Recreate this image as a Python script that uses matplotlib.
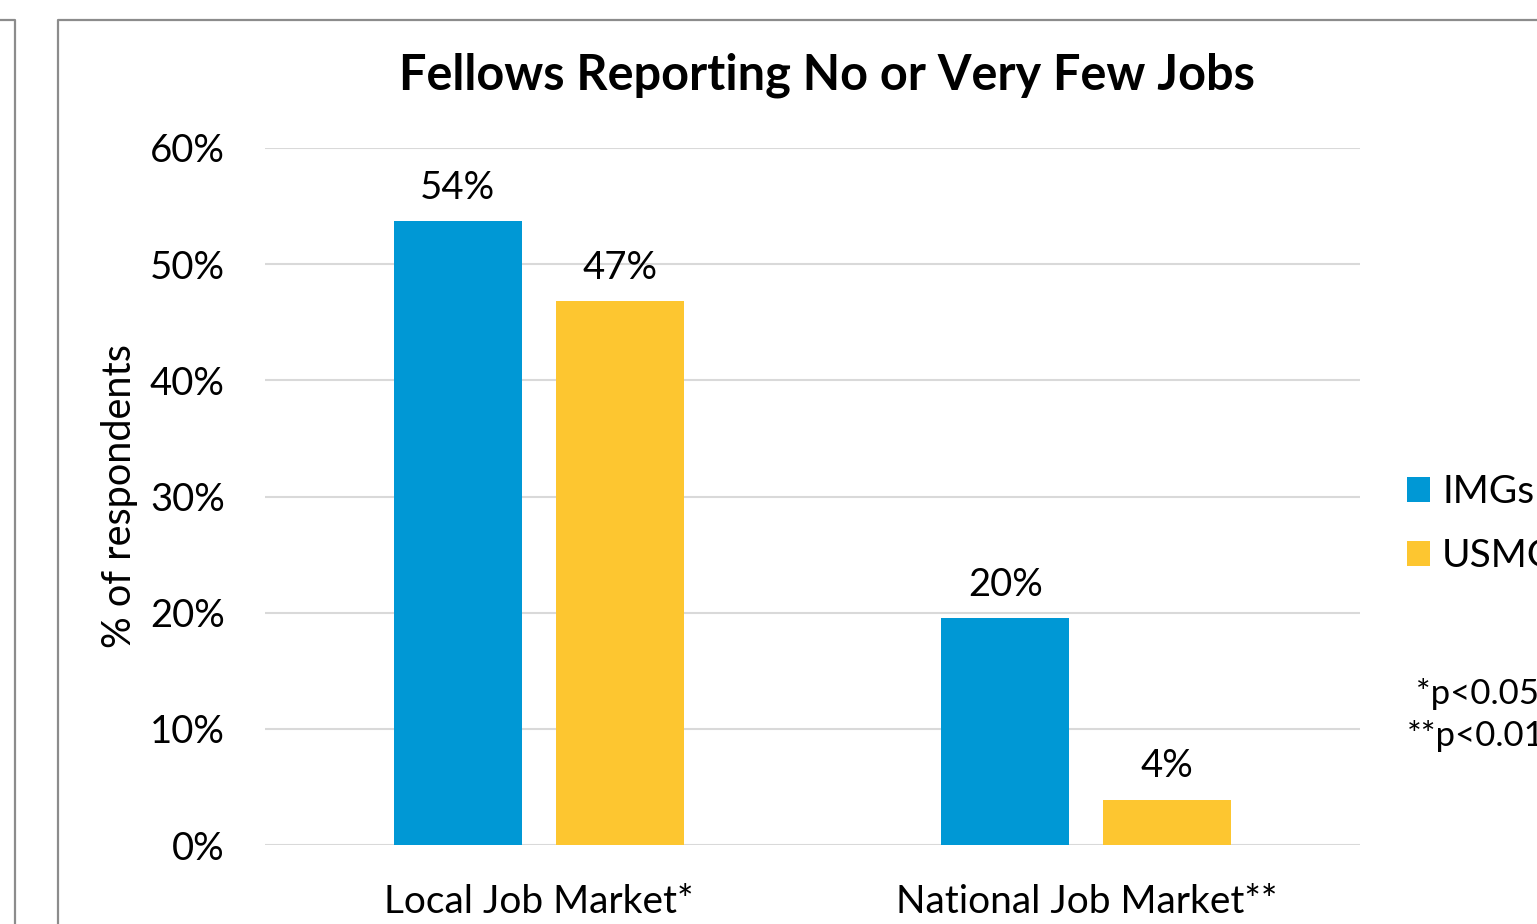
import matplotlib
matplotlib.use("Agg")
import matplotlib.pyplot as plt
from matplotlib.lines import Line2D
import numpy as np

categories = ["Local Job Market*", "National Job Market**"]
series_names = ["IMGs", "USMGs"]
imgs = [53.7, 19.5]
usmgs = [46.8, 3.9]
yticks = [0, 10, 20, 30, 40, 50, 60]
title = "Fellows Reporting No or Very Few Jobs"
ylabel = "% of respondents"
note = " *p<0.05\n**p<0.01"

BLUE = "#0098D5"
YELLOW = "#FDC630"
FONT = ["Lato", "DejaVu Sans"]
plt.rcParams["font.family"] = FONT

W, H = 1537, 924
fig = plt.figure(figsize=(W / 100, H / 100), dpi=100)
ax = fig.add_axes([265 / W, 1 - 845 / H, (1360 - 265) / W, (845 - 148) / H])

x = np.arange(len(categories))
bw = 0.234
off = 0.148
b1 = ax.bar(x - off, imgs, bw, color=BLUE, label=series_names[0], zorder=3)
b2 = ax.bar(x + off, usmgs, bw, color=YELLOW, label=series_names[1], zorder=3)
for bars, vals in ((b1, imgs), (b2, usmgs)):
    for r, v in zip(bars, vals):
        ax.annotate(f"{round(v)}%", (r.get_x() + r.get_width() / 2, v), xytext=(0, 11),
                    textcoords="offset points", ha="center", va="bottom", fontsize=27.5)

ax.set_xlim(-0.5, 1.5)
ax.set_ylim(0, 60)
ax.set_yticks(yticks)
ax.set_yticklabels([f"{t}%" for t in yticks], fontsize=27.5)
ax.set_xticks(x)
ax.set_xticklabels(categories, fontsize=28)
ax.tick_params(axis="both", length=0)
ax.tick_params(axis="y", pad=29)
ax.tick_params(axis="x", pad=28)
ax.grid(axis="y", color="#D9D9D9", linewidth=1.5, zorder=0)
for s in ax.spines.values():
    s.set_visible(False)
ax.set_ylabel(ylabel, fontsize=28.5)
ax.yaxis.set_label_coords(-(265 - 138) / (1360 - 265), 0.5)

fig.text(827 / W, 1 - 75 / H, title, ha="center", va="center", fontsize=35, fontweight="bold")

leg = fig.legend(handles=[b1, b2], labels=series_names, loc="center left",
                 bbox_to_anchor=(1407 / W, 1 - 524 / H), frameon=False, fontsize=28,
                 handlelength=0.6, handleheight=0.6, handletextpad=0.3, labelspacing=0.72,
                 borderpad=0, borderaxespad=0)

fig.text(1407 / W, 1 - 715 / H, note, ha="left", va="center", fontsize=25, linespacing=1.4)

# frames of the slide panels
gc = "#8C8C8C"
fig.add_artist(Line2D([0, 15 / W, 15 / W], [1 - 20 / H, 1 - 20 / H, 0], color=gc, lw=1.6, transform=fig.transFigure))
fig.add_artist(Line2D([58 / W, 58 / W, 1], [0, 1 - 20 / H, 1 - 20 / H], color=gc, lw=1.6, transform=fig.transFigure))

fig.savefig("out.png", dpi=100)
